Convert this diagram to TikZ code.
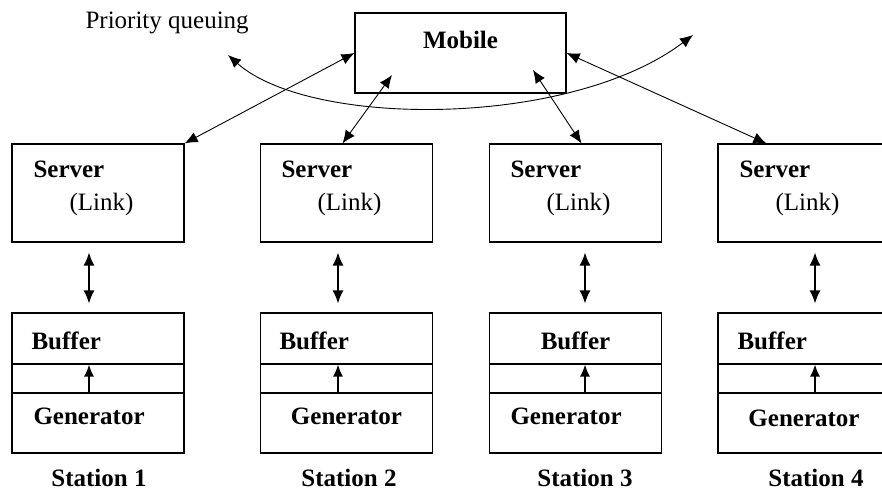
\documentclass[tikz,border=0pt]{standalone}
\usepackage{fontspec}
\setmainfont{Liberation Serif}
\usetikzlibrary{arrows.meta}

\tikzset{
    box/.style={draw, line width=1.2pt, inner sep=0pt, minimum width=172pt},
    head/.style={anchor=base west, font=\fontsize{25}{29}\selectfont\bfseries},
    sub/.style={anchor=base west, font=\fontsize{25}{29}\selectfont},
    link/.style={line width=0.9pt, {Latex[length=13pt,width=11pt]}-{Latex[length=13pt,width=11pt]}},
    feed/.style={line width=1.4pt, {Latex[length=13pt,width=11pt]}-{Latex[length=13pt,width=11pt]}, shorten <=10pt, shorten >=9pt},
    push/.style={line width=1.4pt, -{Latex[length=12pt,width=10pt]}}
}

\begin{document}
\begin{tikzpicture}[x=1pt, y=-1pt]
    \clip (0,0) rectangle (882,493);

    % Mobile en wachtrij
    \node[box, minimum width=211pt, minimum height=80pt] (mob) at (460.5,53) {};
    \node[head, anchor=base] at (460.5,48) {Mobile};
    \node[sub] (prio) at (82,28) {Priority queuing};

    % Station 1
    \node[box, minimum height=98pt] (srv1) at (98,193) {};
    \node[head] at (30,177) {Server};
    \node[sub] at (66,210) {(Link)};
    \node[box, minimum height=51pt] (buf1) at (98,338.5) {};
    \node[box, minimum height=29pt] (gap1) at (98,378.5) {};
    \node[box, minimum height=60pt] (gen1) at (98,423) {};
    \node[head] at (28,349) {Buffer};
    \node[head] at (30,424) {Generator};
    \node[head, anchor=base] (st1) at (99,486) {Station 1};

    % Station 2
    \node[box, minimum height=98pt] (srv2) at (346.5,193) {};
    \node[head] at (278,177) {Server};
    \node[sub] at (314,210) {(Link)};
    \node[box, minimum height=51pt] (buf2) at (346.5,338.5) {};
    \node[box, minimum height=29pt] (gap2) at (346.5,378.5) {};
    \node[box, minimum height=60pt] (gen2) at (346.5,423) {};
    \node[head] at (276,349) {Buffer};
    \node[head, anchor=base] at (346.5,424) {Generator};
    \node[head, anchor=base] (st2) at (349,486) {Station 2};

    % Station 3
    \node[box, minimum height=98pt] (srv3) at (575.5,193) {};
    \node[head] at (507,177) {Server};
    \node[sub] at (543,210) {(Link)};
    \node[box, minimum height=51pt] (buf3) at (575.5,338.5) {};
    \node[box, minimum height=29pt] (gap3) at (575.5,378.5) {};
    \node[box, minimum height=60pt] (gen3) at (575.5,423) {};
    \node[head, anchor=base] at (575.5,349) {Buffer};
    \node[head] at (507,424) {Generator};
    \node[head, anchor=base] (st3) at (585,486) {Station 3};

    % Station 4
    \node[box, minimum height=98pt] (srv4) at (804,193) {};
    \node[head] at (736,177) {Server};
    \node[sub] at (772,210) {(Link)};
    \node[box, minimum height=51pt] (buf4) at (804,338.5) {};
    \node[box, minimum height=29pt] (gap4) at (804,378.5) {};
    \node[box, minimum height=60pt] (gen4) at (804,423) {};
    \node[head] at (734,349) {Buffer};
    \node[head, anchor=base] at (804,426) {Generator};
    \node[head, anchor=base] (st4) at (816,486) {Station 4};

    % verbindingen met Mobile
    \coordinate (m2) at (392,75);
    \coordinate (m3) at (533,70);
    \draw[link] (srv1.north east) -- (mob.west);
    \draw[link] ([xshift=-4]srv2.north) -- (m2);
    \draw[link] (m3) -- ([xshift=6]srv3.north);
    \draw[link] (mob.east) -- ([xshift=49]srv4.north west);

    % prioriteit
    \coordinate (qa) at (228,55);
    \coordinate (qb) at (693,35);
    \draw[link] (qa) .. controls (310,128) and (570,128) .. (qb);

    % server <-> buffer, generator -> buffer
    \draw[feed] ([xshift=-9]srv1.south) -- ([xshift=-9]buf1.north);
    \draw[feed] ([xshift=-8.5]srv2.south) -- ([xshift=-8.5]buf2.north);
    \draw[feed] ([xshift=9.5]srv3.south) -- ([xshift=9.5]buf3.north);
    \draw[feed] ([xshift=11]srv4.south) -- ([xshift=11]buf4.north);
    \draw[push] ([xshift=-9]gen1.north) -- ([xshift=-9]buf1.south);
    \draw[push] ([xshift=-8.5]gen2.north) -- ([xshift=-8.5]buf2.south);
    \draw[push] ([xshift=9.5]gen3.north) -- ([xshift=9.5]buf3.south);
    \draw[push] ([xshift=11]gen4.north) -- ([xshift=11]buf4.south);
\end{tikzpicture}
\end{document}
